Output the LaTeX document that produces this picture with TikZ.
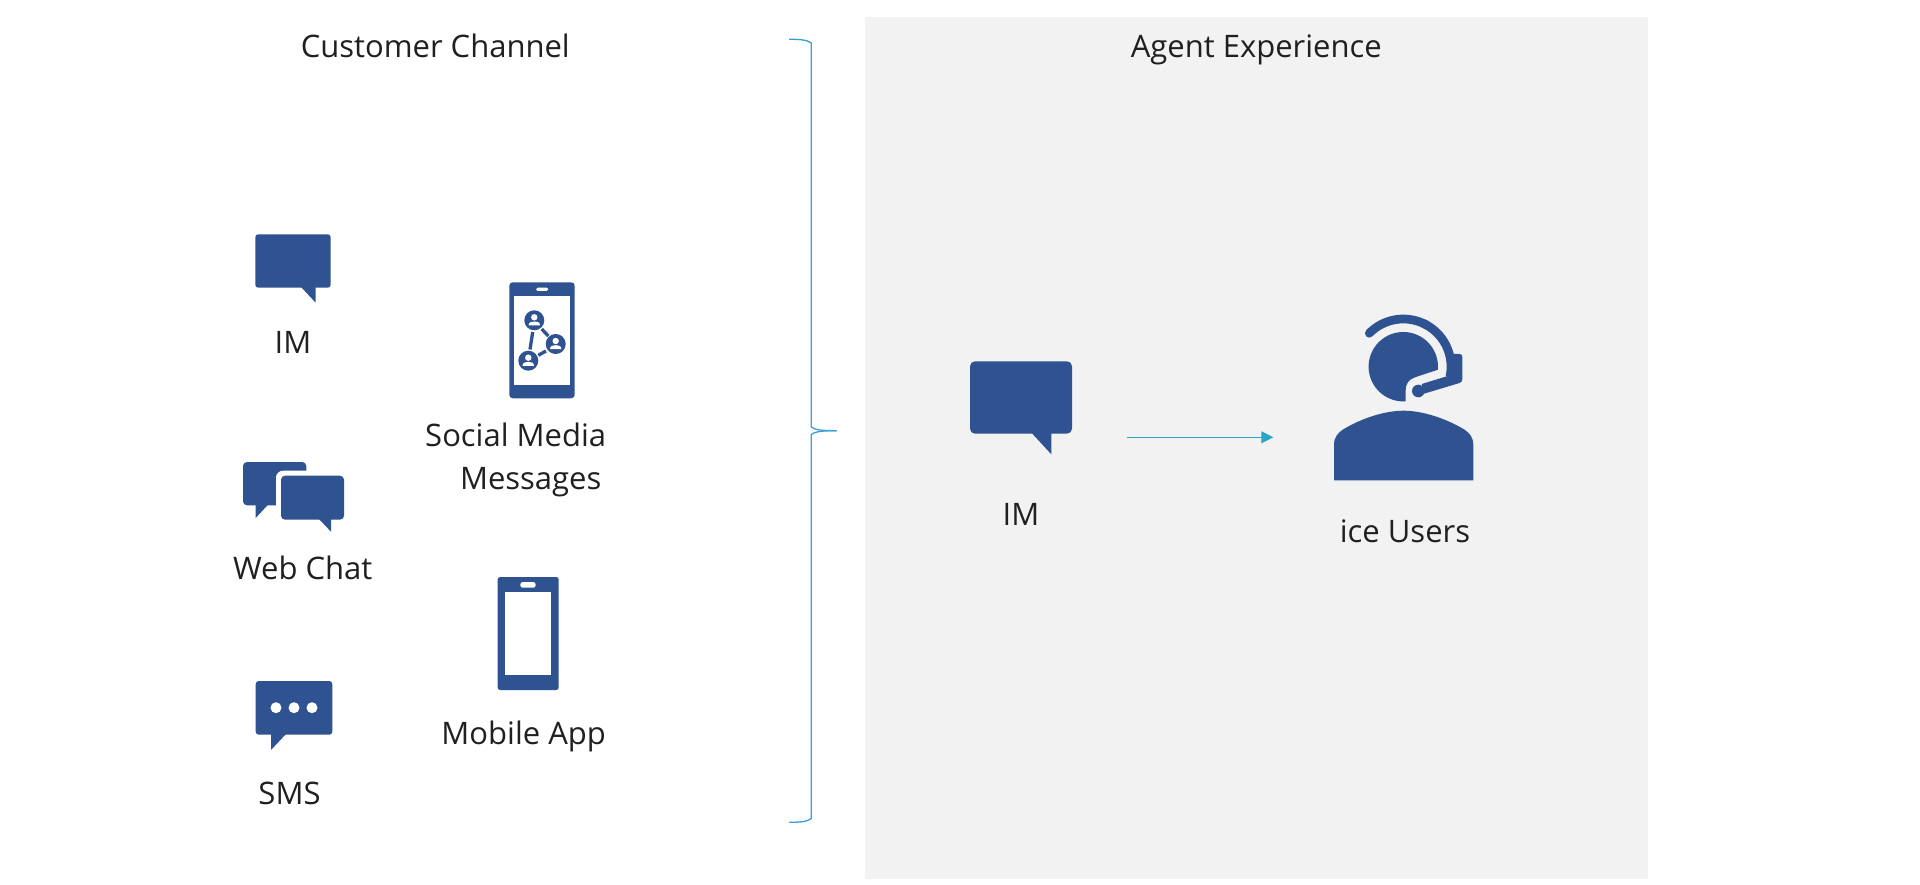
\documentclass[tikz,border=0pt]{standalone}
\usepackage{fontspec}
\setmainfont{Open Sans}
\usetikzlibrary{arrows.meta}
\definecolor{iconblue}{HTML}{2F5290}
\definecolor{panelgrey}{HTML}{F2F2F2}
\definecolor{textdark}{HTML}{202020}
\definecolor{bracketblue}{HTML}{3A9FD8}
\definecolor{arrowteal}{HTML}{2CA6C6}
\tikzset{
  lbl/.style={text=textdark,anchor=base,inner sep=0pt,font=\fontsize{31}{36}\selectfont},
  icon/.style={fill=iconblue,draw=none},
  hole/.style={fill=white,draw=none},
  bracketline/.style={draw=bracketblue,line width=1.3pt,fill=none},
  flow/.style={draw=arrowteal,line width=1pt,-{Triangle[length=12pt,width=12pt,fill=arrowteal]}},
  netperson/.pic={
    \fill[white] (0,-3) circle (3.2);
    \fill[white] (-5.8,5.2) .. controls (-5.6,1.5) and (-2.5,1.2) .. (0,1.2) .. controls (2.5,1.2) and (5.6,1.5) .. (5.8,5.2) -- cycle;
  }
}
\begin{document}
\begin{tikzpicture}[x=1pt,y=-1pt]
\useasboundingbox (0,0) rectangle (1920,885);
\fill[white] (0,0) rectangle (1920,885);
% panel
\fill[panelgrey] (865,17) rectangle (1648,879);
% bracket
\draw[bracketline] (789,39.3) .. controls (800,39.3) and (807,39.8) .. (811.3,43)
  -- (811.3,427) .. controls (815,430) and (822,430.7) .. (836.7,430.7);
\draw[bracketline] (836.7,430.7) .. controls (822,430.7) and (815,431.5) .. (811.3,434.5)
  -- (811.3,818.5) .. controls (807,821.8) and (800,822.3) .. (789,822.3);
% titles
\node[lbl] (custTitle) at (435.3,57.5) {Customer Channel};
\node[lbl] (agentTitle) at (1256.3,57.5) {Agent Experience};
% IM bubble
\fill[icon,rounded corners=3pt] (255.3,234.3) rectangle (330.7,287.7);
\fill[icon] (301,287) -- (315.7,302.7) -- (315.7,287) -- cycle;
\node[lbl] (imLeft) at (293,354) {IM};
% social phone
\fill[icon,rounded corners=3.5pt] (509.3,282.3) rectangle (574.7,398.3);
\fill[white] (514.3,296.3) rectangle (569.7,384.7);
\fill[white,rounded corners=1.6pt] (536,287.7) rectangle (548.3,291);
\draw[iconblue,line width=3.3pt] (532.7,332) -- (530,349.5);
\draw[iconblue,line width=3.3pt] (541.7,329) -- (548.3,336);
\draw[iconblue,line width=3.3pt] (546,351) -- (538.3,355.3);
\fill[icon] (534.3,320.3) circle (10);
\fill[icon] (555.7,344) circle (10);
\fill[icon] (528.3,360.7) circle (10);
\pic at (534.3,320.3) {netperson};
\pic at (555.7,344) {netperson};
\pic at (528.3,360.7) {netperson};
\node[lbl] (socialOne) at (515.7,446) {Social Media};
\node[lbl] (socialTwo) at (530.7,489.3) {Messages};
% web chat
\fill[icon,rounded corners=4pt] (243,462) rectangle (306.3,505.3);
\fill[icon] (255.7,505) -- (255.7,518) -- (267.7,505) -- cycle;
\fill[white,rounded corners=7pt] (276,470.7) rectangle (350,525);
\fill[icon,rounded corners=4pt] (281,475.7) rectangle (344,519.7);
\fill[icon] (319,519) -- (331,531.7) -- (331,519) -- cycle;
\node[lbl] (webChat) at (302.7,579) {Web Chat};
% SMS
\fill[icon,rounded corners=3pt] (255.7,681) rectangle (332.3,734.7);
\fill[icon] (286,734) -- (271,750) -- (271,734) -- cycle;
\fill[white] (276,707.7) circle (5.5);
\fill[white] (294,707.7) circle (5.5);
\fill[white] (312,707.7) circle (5.5);
\node[lbl] (sms) at (289.5,804.3) {SMS};
% mobile
\fill[icon,rounded corners=2.5pt] (497.7,577) rectangle (558.7,690);
\fill[white] (505,592.3) rectangle (551,674.7);
\fill[white,rounded corners=2.5pt] (520.3,582) rectangle (535.7,587.7);
\node[lbl] (mobile) at (523.7,744) {Mobile App};
% large IM
\fill[icon,rounded corners=5pt] (970,361.3) rectangle (1072,433.7);
\fill[icon] (1031.7,433) -- (1051.3,454.3) -- (1051.3,433) -- cycle;
\node[lbl] (imRight) at (1021,525) {IM};
% arrow
\coordinate (flowStart) at (1127.3,437.3);
\coordinate (flowEnd) at (1273.3,437.3);
\draw[flow] (flowStart) -- (flowEnd);
% agent
\fill[icon] (1334,480.3) -- (1334,445) .. controls (1334,437) and (1338,433) .. (1343,429.5)
  .. controls (1362,418) and (1385,410.7) .. (1403.6,410.7)
  .. controls (1422,410.7) and (1445,418) .. (1464.3,429.5)
  .. controls (1469.3,433) and (1473.3,437) .. (1473.3,445) -- (1473.3,480.3) -- cycle;
\fill[icon] plot[domain=86:365,samples=60] ({1403.3+34.7*cos(\x)},{366.7+34.7*sin(\x)})
  -- (1415,377.3) .. controls (1408.5,379.5) and (1405.7,384) .. (1405.7,390) -- cycle;
\draw[iconblue,line width=8.7pt,line cap=round] plot[domain=224.5:300,samples=30] ({1403.3+47.7*cos(\x)},{366.7+47.7*sin(\x)});
\draw[iconblue,line width=8.7pt] plot[domain=295:372,samples=30] ({1403.3+47.7*cos(\x)},{366.7+47.7*sin(\x)});
\fill[icon] (1446.7,376.3) -- (1421.7,384) -- (1424,393.7) -- (1459.5,383)
  .. controls (1461.5,382.3) and (1462.3,381) .. (1462.3,379)
  -- (1462.3,357) .. controls (1462.3,355) and (1461.5,354) .. (1459.5,354) -- (1450,354) -- cycle;
\fill[icon] (1418.3,391) circle (6.3);
\node[lbl] (iceUsers) at (1405,542.5) {ice Users};
\end{tikzpicture}
\end{document}
